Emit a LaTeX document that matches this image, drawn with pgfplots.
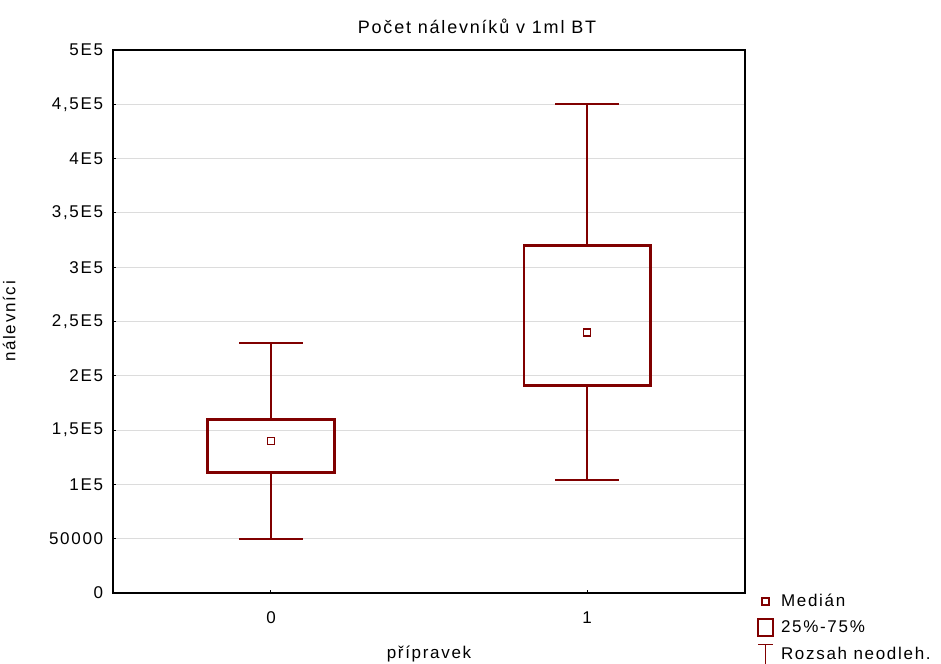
\documentclass[border=0pt]{standalone}
\usepackage{pgfplots}
\pgfplotsset{compat=1.18}
\usepgfplotslibrary{statistics}
\usepackage{fontspec}
\setmainfont[LetterSpace=10]{Liberation Sans}
\definecolor{boxred}{RGB}{128,0,0}
\definecolor{gridgray}{RGB}{220,220,220}
\begin{document}
\fontsize{17bp}{20bp}\selectfont
\begin{tikzpicture}
\begin{axis}[
  name=ax,
  scale only axis,
  width=632bp, height=543bp,
  xmin=-0.5, xmax=1.5,
  ymin=0, ymax=500000,
  xtick={0,1}, xticklabels={0,1},
  ytick={0,50000,100000,150000,200000,250000,300000,350000,400000,450000,500000},
  yticklabels={0,50000,1E5,{1,5E5},2E5,{2,5E5},3E5,{3,5E5},4E5,{4,5E5},5E5},
  scaled y ticks=false,
  ymajorgrids=true,
  major grid style={gridgray, line width=0.8bp},
  axis line style={line width=1.3bp, black},
  tick align=inside,
  major tick length=3bp,
  xtick pos=bottom, ytick pos=left,
  tick style={black, line width=1bp},
  ticklabel style={font=\fontsize{17bp}{20bp}\selectfont},
  yticklabel style={xshift=-4bp},
  xticklabel style={yshift=-13bp},
  title={Počet nálevníků v 1ml BT},
  title style={yshift=4bp, xshift=48bp, font=\fontsize{18bp}{20bp}\selectfont},
  xlabel={přípravek},
  xlabel style={yshift=-11bp},
  ylabel={nálevníci},
  ylabel style={yshift=22bp},
  label style={font=\fontsize{17bp}{20bp}\selectfont},
  legend style={draw=none, fill=none, at={(1,0)}, anchor=north west,
    xshift=12bp, yshift=1bp, inner sep=0pt,
    font=\fontsize{17bp}{20bp}\selectfont,
    cells={anchor=west}, row sep=7bp,
    nodes={inner xsep=7bp}},
  legend cell align=left,
  boxplot/draw direction=y,
  boxplot/box extend=0.4,
  boxplot/whisker extend=0.2,
  boxplot/every box/.style={line width=2.6bp},
  boxplot/every whisker/.style={line width=1.8bp},
  boxplot/every median/.style={draw=none},
]
\addplot[boxred, forget plot, boxplot prepared={draw position=0,
  median=140000, lower quartile=111000, upper quartile=160000,
  lower whisker=50000, upper whisker=230000}] coordinates {};
\addplot[boxred, forget plot, boxplot prepared={draw position=1,
  median=240000, lower quartile=191000, upper quartile=320000,
  lower whisker=104000, upper whisker=450000}] coordinates {};
\addplot[forget plot, only marks, mark=square, mark size=3.5bp,
  mark options={boxred, line width=1.8bp}] coordinates {(0,140000) (1,240000)};
\addlegendimage{legend image code/.code={
  \draw[boxred, line width=1.6bp] (4bp,-3.5bp) rectangle (11bp,3.5bp);}}
\addlegendentry{Medián}
\addlegendimage{legend image code/.code={
  \draw[boxred, line width=1.8bp] (0bp,-8.5bp) rectangle (15bp,8.5bp);}}
\addlegendentry{25\%-75\%}
\addlegendimage{legend image code/.code={
  \draw[boxred, line width=1.4bp] (7.5bp,-11bp) -- (7.5bp,10bp);
  \draw[boxred, line width=1.4bp] (0bp,10bp) -- (15bp,10bp);
  \draw[boxred, line width=1.4bp] (0bp,-11bp) -- (15bp,-11bp);}}
\addlegendentry{Rozsah neodleh.}
\end{axis}
\pgfresetboundingbox
\path (ax.south west) ++(-113bp,-71bp) rectangle ++(941bp,664bp);
\end{tikzpicture}
\end{document}
